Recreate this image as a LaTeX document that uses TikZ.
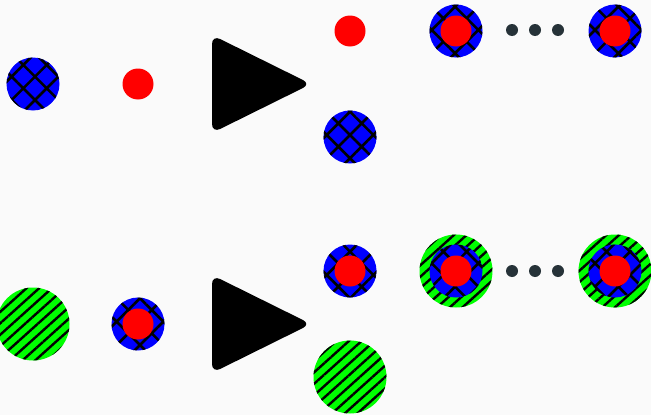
\documentclass[tikz,border=0pt]{standalone}
\usetikzlibrary{patterns.meta,positioning}
\definecolor{bgwhite}{HTML}{FAFAFA}
\definecolor{ballblue}{HTML}{0000FF}
\definecolor{ballred}{HTML}{FF0000}
\definecolor{ballgreen}{HTML}{00FF00}
\definecolor{dotgrey}{HTML}{263238}
\begin{document}
\begin{tikzpicture}[
    x=1pt, y=-1pt,
    ball/.style={circle, inner sep=0pt, outer sep=0pt},
    redball/.style={ball, fill=ballred, minimum size=31pt},
    blueball/.style={ball, minimum size=53pt, preaction={fill=ballblue},
        pattern={Hatch[angle=45, distance=16.5pt, line width=2.6pt]}, pattern color=black},
    greenball/.style={ball, minimum size=73pt, preaction={fill=ballgreen},
        pattern={Lines[angle=42, distance=8.5pt, line width=2.4pt]}, pattern color=black},
    dotball/.style={ball, fill=dotgrey, minimum size=12pt},
    play/.style={fill=black, rounded corners=9pt}
]
\fill[bgwhite] (0,0) rectangle (651,415);
\useasboundingbox (0,0) rectangle (651,415);

% Top row: inputs
\node[blueball] (inA) at (33,84) {};
\node[redball] (inB) at (138,84) {};

% Top row: outputs
\node[redball] (outB) at (350,31) {};
\node[blueball] (outA) at (350,137) {};

% Top row: sequence
\node[blueball] (seqA) at (456,31) {};
\node[redball] (seqAr) at (seqA) {};
\node[blueball] (seqZ) at (615,31) {};
\node[redball] (seqZr) at (seqZ) {};
\foreach \x [count=\i] in {512,535,558}
    \node[dotball] (topdot\i) at (\x,30) {};

% Bottom row: inputs
\node[greenball] (inC) at (33,324) {};
\node[blueball] (inD) at (138,324) {};
\node[redball] (inDr) at (inD) {};

% Bottom row: outputs
\node[blueball] (outD) at (350,271) {};
\node[redball] (outDr) at (outD) {};
\node[greenball] (outC) at (350,377) {};

% Bottom row: sequence
\node[greenball] (nestA) at (456,271) {};
\node[blueball] (nestAb) at (nestA) {};
\node[redball] (nestAr) at (nestA) {};
\node[greenball] (nestZ) at (615,271) {};
\node[blueball] (nestZb) at (nestZ) {};
\node[redball] (nestZr) at (nestZ) {};
\foreach \x [count=\i] in {512,535,558}
    \node[dotball] (botdot\i) at (\x,271) {};

% Play triangles
\foreach \y in {84,324}
    \fill[play] (212,\y-49) -- (311,\y) -- (212,\y+49) -- cycle;

\end{tikzpicture}
\end{document}
